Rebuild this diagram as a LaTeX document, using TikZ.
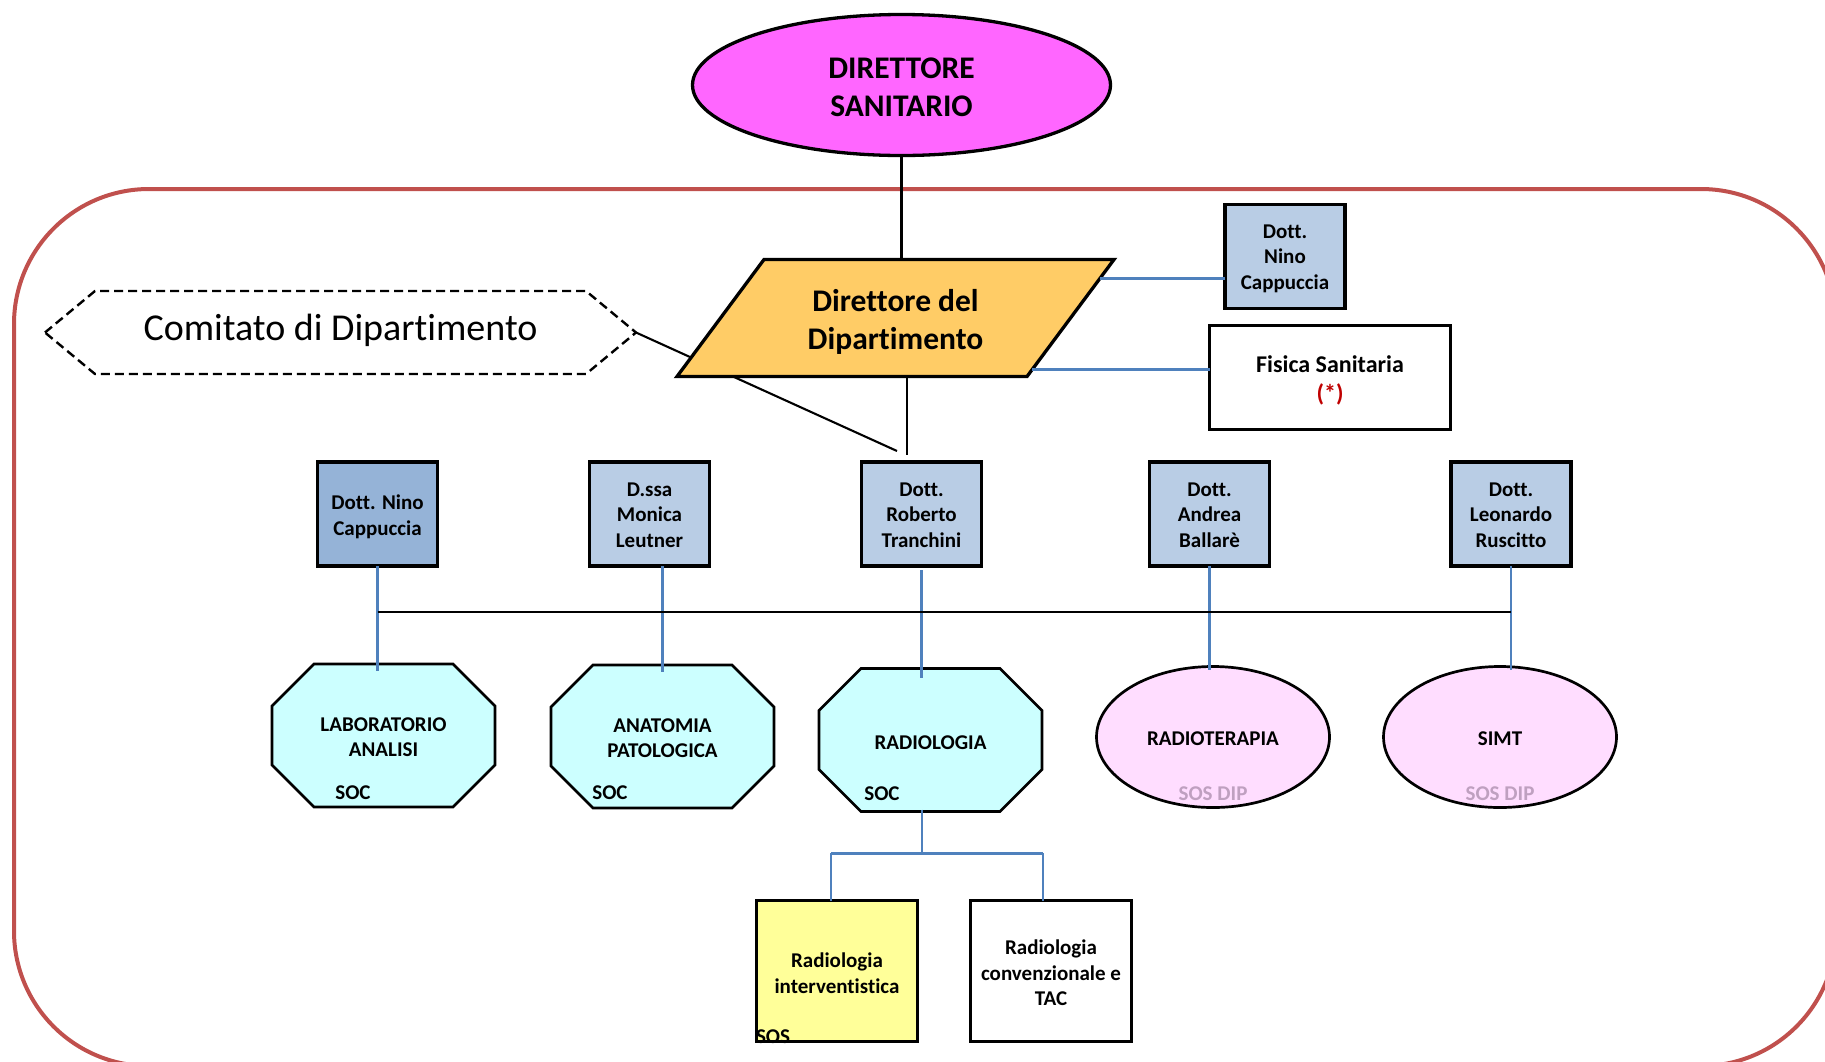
\documentclass[tikz,border=0pt]{standalone}
\usepackage{fontspec}
\setmainfont{Carlito}[Ligatures=NoCommon]
\usetikzlibrary{shapes.geometric,calc,backgrounds}
\definecolor{magentaF}{HTML}{FF66FF}
\definecolor{orangeF}{HTML}{FFCC66}
\definecolor{docblue}{HTML}{B9CDE5}
\definecolor{docdark}{HTML}{95B3D7}
\definecolor{cyanF}{HTML}{CCFFFF}
\definecolor{pinkF}{HTML}{FFDDFF}
\definecolor{yellowF}{HTML}{FFFF99}
\definecolor{blueL}{HTML}{4F81BD}
\definecolor{redB}{HTML}{C0504D}
\definecolor{redT}{HTML}{C00000}
\definecolor{sosgray}{HTML}{BFA0C0}
\begin{document}
\begin{tikzpicture}[x=1pt,y=-1pt,outer sep=0pt,
  txt/.style={font=\fontsize{21}{25.6}\selectfont\bfseries,align=center},
  bigtxt/.style={font=\fontsize{31.5}{38}\selectfont\bfseries,align=center},
  boxshape/.style={draw=black,line width=3.3pt,rectangle,inner sep=0pt,minimum width=120pt,minimum height=104pt},
  docbox/.style={boxshape,fill=docblue},
  octn/.style={rectangle,inner sep=0pt,minimum width=223pt,minimum height=143pt},
  octpath/.style={draw=black,line width=2.6pt,fill=cyanF,line join=miter},
  ellsmall/.style={ellipse,draw=black,line width=2.7pt,fill=pinkF,inner sep=0pt,minimum width=233pt,minimum height=141pt},
  blk/.style={draw=black,line width=2.1pt},
  blueln/.style={draw=blueL,line width=3pt},
  blueV/.style={draw=blueL,line width=2.6pt}
]
\useasboundingbox (0,0) rectangle (1825,1061);

% department frame
\begin{scope}
\clip (0,0) rectangle (1825,1061);
\draw[line width=4pt,draw=redB,rounded corners=135pt] (14,189) rectangle (1836,1066);
\end{scope}

% top ellipse
\node[ellipse,draw=black,line width=3.3pt,fill=magentaF,inner sep=0pt,minimum width=418pt,minimum height=141pt] (ds) at (901.5,85) {};
\node[bigtxt] (dsT) at ([yshift=-2.5pt]ds.center) {DIRETTORE\\SANITARIO};

% committee hexagon
\draw[line width=2.4pt,dash pattern=on 9pt off 5pt] (45,332.5) -- (95,291) -- (586,291) -- (636,332.5) -- (586,374) -- (95,374) -- cycle;
\node[font=\fontsize{38}{46}\selectfont] (com) at (340.5,330) {Comitato di Dipartimento};
\coordinate (hexR) at (636,332.5);
\coordinate (tEnd) at (897,451);
\draw[blk] (hexR) -- (tEnd);

% parallelogram
\coordinate (pTL) at (764,259.5);
\coordinate (pTR) at (1114,259.5);
\coordinate (pBR) at (1027,376.5);
\coordinate (pBL) at (677,376.5);
\draw[line width=3.3pt,fill=orangeF,line join=miter] (pTL) -- (pTR) -- (pBR) -- (pBL) -- cycle;
\node[bigtxt] (dd) at (895.5,321.5) {Direttore del\\Dipartimento};

\draw[blk] (ds.south) -- (ds.south |- pTL);
\coordinate (pBot) at (907,376.5);
\coordinate (tTop) at (907,455);
\draw[blk] (pBot) -- (tTop);

% right boxes
\node[docbox] (nino1) at (1285,256.5) {};
\node[txt] (nino1T) at ([yshift=-2pt]nino1.center) {Dott.\\Nino\\Cappuccia};
\node[boxshape,minimum width=241pt,fill=white] (fis) at (1330,377.5) {};
\node[font=\fontsize{24}{29}\selectfont\bfseries,align=center] (fisT) at ([yshift=-2.5pt]fis.center) {Fisica Sanitaria\\\textcolor{redT}{(*)}};
\coordinate (e1) at ($(pTR)!0.163!(pBR)$);
\coordinate (e2) at ($(pTR)!0.94!(pBR)$);
\draw[blueln] (e1) -- (e1 -| nino1.west);
\draw[blueln] (e2) -- (e2 -| fis.west);

% doctors row
\node[docbox,fill=docdark] (nino2) at (377.5,514) {};
\node[docbox] (dssa) at (649.5,514) {};
\node[docbox] (tran) at (921.5,514) {};
\node[docbox] (ball) at (1209.5,514) {};
\node[docbox] (rusc) at (1511,514) {};
\node[txt] (nino2T) at ([yshift=-2.5pt]nino2.center) {Dott. Nino\\Cappuccia};
\node[txt] (dssaT) at ([yshift=-1pt]dssa.center) {D.ssa\\Monica\\Leutner};
\node[txt] (tranT) at ([yshift=-1pt]tran.center) {Dott.\\Roberto\\Tranchini};
\node[txt] (ballT) at ([yshift=-1pt]ball.center) {Dott.\\Andrea\\Ballarè};
\node[txt] (ruscT) at ([yshift=-1pt]rusc.center) {Dott.\\Leonardo\\Ruscitto};

% units
\node[octn] (lab) at (383.5,735.5) {};
\node[octn] (anat) at (662.5,736.5) {};
\node[octn] (radio) at (930.5,740) {};
\foreach \n in {lab,anat,radio}{
  \draw[octpath] ([xshift=42pt]\n.north west) -- ([xshift=-42pt]\n.north east) -- ([yshift=-42pt]\n.north east) -- ([yshift=42pt]\n.south east) -- ([xshift=-42pt]\n.south east) -- ([xshift=42pt]\n.south west) -- ([yshift=42pt]\n.south west) -- ([yshift=-42pt]\n.north west) -- cycle;
}
\node[txt] (labT) at ([yshift=-1.5pt]lab.center) {LABORATORIO\\ANALISI};
\node[txt] (anatT) at ([yshift=-1.5pt]anat.center) {ANATOMIA\\PATOLOGICA};
\node[txt] (radioT) at ([yshift=-3pt]radio.center) {RADIOLOGIA};
\node[txt,anchor=west] (soc1) at (332,793) {SOC};
\node[txt,anchor=west] (soc2) at (589,793) {SOC};
\node[txt,anchor=west] (soc3) at (861,794) {SOC};

\node[ellsmall] (rt) at (1213,737) {};
\node[ellsmall] (simt) at (1500,737) {};
\node[txt] (rtT) at ([yshift=-2pt]rt.center) {RADIOTERAPIA};
\node[txt] (simtT) at ([yshift=-2pt]simt.center) {SIMT};
\node[txt,text=sosgray] (sd1) at (1213,794) {SOS DIP};
\node[txt,text=sosgray] (sd2) at (1500,794) {SOS DIP};

% bus
\coordinate (bus1) at (377.5,612);
\coordinate (bus2) at (rusc.south |- bus1);
\draw[blueV] (nino2.south) -- ([yshift=-7pt]nino2.south |- lab.north);
\draw[blueV] (dssa.south -| anat.north) -- ([yshift=-7pt]anat.north);
\draw[blueV] ([yshift=-4pt]tran.south) -- ([yshift=-9pt]tran.south |- radio.north);
\draw[blueV] (ball.south) -- ([yshift=-3pt]ball.south |- rt.north);
\draw[blueV] (rusc.south) -- ([yshift=-3pt]rusc.south |- simt.north);
\draw[draw=black,line width=2.6pt] (bus1) -- (bus2);

% radiologia sub units
\node[boxshape,fill=yellowF,minimum width=161pt,minimum height=141pt] (rint) at (837,971) {};
\node[boxshape,fill=white,minimum width=161pt,minimum height=141pt] (rconv) at (1051,971) {};
\node[txt] (rintT) at ([yshift=-2pt]rint.center) {Radiologia\\interventistica};
\node[txt] (rconvT) at ([yshift=-2pt]rconv.center) {Radiologia\\convenzionale e\\TAC};
\node[txt,anchor=west,inner sep=0pt] (sos) at (756,1036.5) {SOS};
\coordinate (rj) at (922,853);
\coordinate (rjL) at (831,853);
\coordinate (rjR) at (1043,853);
\draw[blueV] ([yshift=2pt]radio.south -| rj) -- (rj);
\draw[blueln] (rjL) -- (rjR);
\draw[blueV] (rjL) -- (rjL |- rint.north);
\draw[blueV] (rjR) -- (rjR |- rconv.north);
\end{tikzpicture}
\end{document}
